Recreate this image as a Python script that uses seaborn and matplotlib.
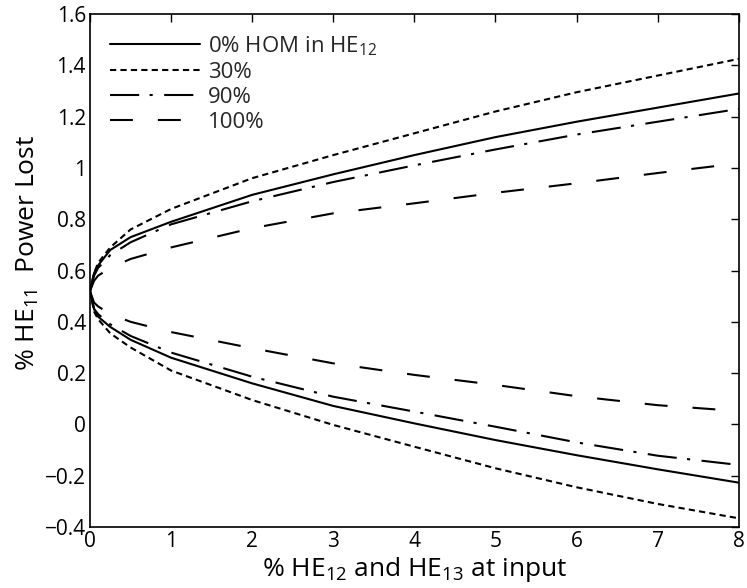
import numpy as np
import pandas as pd
import matplotlib
matplotlib.use("Agg")
import matplotlib.pyplot as plt
import seaborn as sns
from matplotlib.lines import Line2D

# ---------------- data ----------------
x_vals = [0, 0.05, 0.1, 0.25, 0.5, 1, 2, 3, 4, 5, 6, 7, 8]

upper_0 = [0.52, 0.59, 0.62, 0.68, 0.73, 0.79, 0.895, 0.975, 1.05, 1.12, 1.18, 1.235, 1.29]
upper_30 = [0.52, 0.59, 0.63, 0.69, 0.76, 0.84, 0.96, 1.05, 1.135, 1.22, 1.295, 1.36, 1.425]
upper_90 = [0.52, 0.58, 0.61, 0.66, 0.71, 0.78, 0.87, 0.945, 1.01, 1.072, 1.13, 1.18, 1.23]
upper_100 = [0.52, 0.56, 0.58, 0.61, 0.645, 0.69, 0.765, 0.823, 0.862, 0.903, 0.94, 0.98, 1.018]

lower_0 = [0.52, 0.45, 0.42, 0.38, 0.33, 0.26, 0.16, 0.072, 0.004, -0.061, -0.12, -0.175, -0.227]
lower_30 = [0.52, 0.44, 0.41, 0.355, 0.30, 0.21, 0.095, -0.002, -0.087, -0.171, -0.245, -0.31, -0.366]
lower_90 = [0.52, 0.45, 0.43, 0.39, 0.345, 0.28, 0.186, 0.108, 0.05, -0.009, -0.07, -0.122, -0.158]
lower_100 = [0.52, 0.475, 0.46, 0.43, 0.40, 0.36, 0.297, 0.238, 0.193, 0.154, 0.11, 0.075, 0.052]

series_labels = ["0% HOM in HE$_{\\mathregular{12}}$", "30%", "90%", "100%"]

x_ticks = [0, 1, 2, 3, 4, 5, 6, 7, 8]
y_ticks = [-0.4, -0.2, 0, 0.2, 0.4, 0.6, 0.8, 1.0, 1.2, 1.4, 1.6]
y_tick_labels = ["\u22120.4", "\u22120.2", "0", "0.2", "0.4", "0.6", "0.8", "1", "1.2", "1.4", "1.6"]

# ---------------- style ----------------
sns.set_style("white")
FONT = "Open Sans"
plt.rcParams["font.family"] = [FONT, "DejaVu Sans"]
plt.rcParams["mathtext.fontset"] = "custom"
plt.rcParams["mathtext.rm"] = FONT
plt.rcParams["mathtext.it"] = FONT
plt.rcParams["mathtext.bf"] = FONT
plt.rcParams["axes.unicode_minus"] = True

LW = 1.5
styles = [
    "-",
    (0, (3, 2)),
    (0, (14, 5, 1.5, 5.5)),
    (0, (11, 12)),
]

fig = plt.figure(figsize=(7.47, 5.88), dpi=100)
ax = fig.add_axes([0.1205, 0.1037, 0.8685, 0.8725])

uppers = [upper_0, upper_30, upper_90, upper_100]
lowers = [lower_0, lower_30, lower_90, lower_100]

handles = []
for lab, st, up, lo in zip(series_labels, styles, uppers, lowers):
    df_u = pd.DataFrame({"x": x_vals, "y": up})
    df_l = pd.DataFrame({"x": x_vals, "y": lo})
    sns.lineplot(data=df_u, x="x", y="y", ax=ax, color="black", linewidth=LW,
                 linestyle=st, estimator=None, sort=False)
    sns.lineplot(data=df_l, x="x", y="y", ax=ax, color="black", linewidth=LW,
                 linestyle=st, estimator=None, sort=False)
    handles.append(Line2D([0], [0], color="black", linewidth=LW, linestyle=st, label=lab))

ax.set_xlim(0, 8)
ax.set_ylim(-0.4, 1.6)
ax.set_xticks(x_ticks)
ax.set_xticklabels([str(t) for t in x_ticks])
ax.set_yticks(y_ticks)
ax.set_yticklabels(y_tick_labels)

ax.tick_params(axis="both", which="major", direction="in", length=6, width=1,
               labelsize=15, top=True, right=True, color="black", labelcolor="black",
               pad=3)
for sp in ax.spines.values():
    sp.set_visible(True)
    sp.set_color("black")
    sp.set_linewidth(1.2)

ax.set_xlabel("% HE$_{\\mathregular{12}}$ and HE$_{\\mathregular{13}}$ at input", fontsize=19, color="black")
ax.set_ylabel("% HE$_{\\mathregular{11}}$  Power Lost", fontsize=19, color="black")
ax.xaxis.set_label_coords(0.5, -0.055)
ax.yaxis.set_label_coords(-0.075, 0.535)

leg = ax.legend(handles=handles, loc="upper left", frameon=False, fontsize=16,
                handlelength=4.05, handletextpad=0.36, labelspacing=0.19,
                borderaxespad=0.5, borderpad=0.4)

fig.savefig("out.png", dpi=100)
